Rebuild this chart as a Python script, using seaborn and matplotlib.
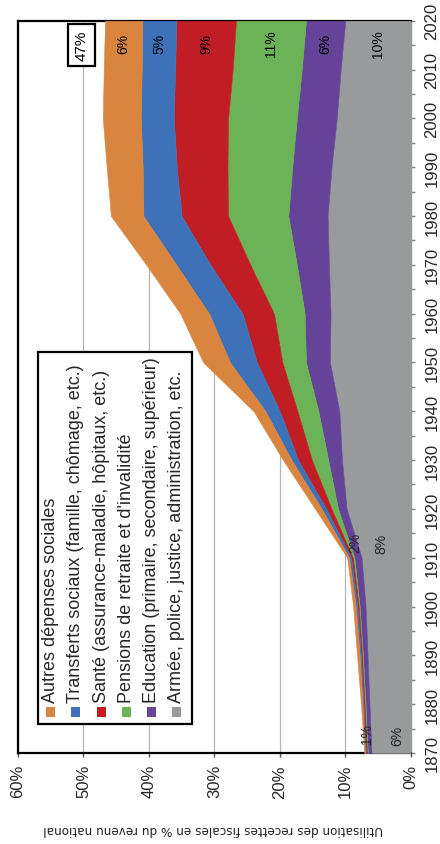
import matplotlib
matplotlib.use("Agg")
import matplotlib.pyplot as plt
from matplotlib.patches import Rectangle
from matplotlib.ticker import MultipleLocator, FuncFormatter
import seaborn as sns

# Share of national income spent through taxes, France, by use (% of national income)
years = [1870, 1880, 1890, 1900, 1910, 1920, 1930, 1940, 1950, 1960, 1970, 1980, 1990, 2000, 2010, 2020]
armee = [6.0, 6.3, 6.6, 6.9, 7.5, 9.8, 10.5, 10.9, 12.35, 12.25, 12.5, 12.7, 12.1, 11.3, 10.7, 10.0]
education = [0.55, 0.6, 0.7, 0.9, 1.1, 1.3, 2.1, 3.2, 3.65, 3.95, 4.9, 6.0, 6.0, 6.1, 5.95, 6.0]
pensions = [0.15, 0.15, 0.15, 0.15, 0.25, 1.0, 2.5, 3.2, 3.6, 4.7, 7.1, 9.2, 9.9, 10.5, 10.55, 10.7]
sante = [0.15, 0.15, 0.15, 0.2, 0.25, 0.8, 2.1, 2.7, 3.9, 4.8, 6.1, 7.1, 7.75, 8.3, 8.8, 9.1]
transferts = [0.15, 0.15, 0.2, 0.25, 0.3, 0.7, 1.0, 2.2, 4.1, 5.1, 5.2, 5.85, 5.2, 5.05, 5.1, 5.2]
autres = [0.1, 0.25, 0.4, 0.4, 0.3, 1.0, 1.3, 1.8, 4.1, 4.4, 4.6, 4.95, 5.5, 5.8, 5.8, 5.7]

series_names = [
    "Armée, police, justice, administration, etc.",
    "Education (primaire, secondaire, supérieur)",
    "Pensions de retraite et d'invalidité",
    "Santé (assurance-maladie, hôpitaux, etc.)",
    "Transferts sociaux (famille, chômage, etc.)",
    "Autres dépenses sociales",
]
series_values = [armee, education, pensions, sante, transferts, autres]
series_colors = ["#989a9b", "#644398", "#6cb256", "#c01e24", "#3d72b9", "#d9853f"]

pct_ticks = [0, 10, 20, 30, 40, 50, 60]
year_ticks = list(range(1870, 2021, 10))
y_label = "Utilisation des recettes fiscales en % du revenu national"

sns.set_theme(style="white")
plt.rcParams["font.family"] = ["Liberation Sans", "DejaVu Sans"]

fig = plt.figure(figsize=(4.4, 8.45), dpi=100)
ax = fig.add_axes([0.0409, 0.1077, 0.8925, 0.8666])

palette = sns.color_palette(series_colors)

# stacked areas, years running upward, percentages running right-to-left
base = [0.0] * len(years)
tops = []
for vals, col in zip(series_values, palette):
    top = [b + v for b, v in zip(base, vals)]
    ax.fill_betweenx(years, base, top, color=col, edgecolor=col, lw=0.4, zorder=3)
    tops.append(top)
    base = top

ax.set_xlim(60, 0)
ax.set_ylim(1870, 2020)

# frame
for side in ["left", "top", "bottom"]:
    ax.spines[side].set_color("black")
    ax.spines[side].set_linewidth(1.6)
    ax.spines[side].set_zorder(1)
ax.spines["right"].set_color("#9a9a9a")
ax.spines["right"].set_linewidth(1.0)
ax.spines["right"].set_zorder(1)

ax.set_axisbelow(True)
ax.grid(axis="x", color="#b4b4b4", lw=0.9)
ax.grid(axis="y", visible=False)

ax.set_xticks(pct_ticks)
ax.xaxis.set_major_formatter(FuncFormatter(lambda v, p: f"{int(v)}%"))
ax.tick_params(axis="x", direction="out", length=3, width=1, color="#555555",
               pad=5, labelsize=12, labelrotation=90, bottom=True)

ax.yaxis.tick_right()
ax.set_yticks(year_ticks)
ax.yaxis.set_minor_locator(MultipleLocator(5))
ax.tick_params(axis="y", which="both", direction="out", length=3, width=1,
               color="#888888", right=True, left=False)
ax.tick_params(axis="y", which="major", pad=7, labelsize=12, labelrotation=90)
for lab in ax.get_yticklabels():
    lab.set_va("center")

# value labels near 2020
label_year = 2015.5
lower = [0.0] + [t[-1] for t in tops[:-1]]
for vals, lo, top in zip(series_values, lower, tops):
    ax.text((lo + top[-1]) / 2, label_year, f"{round(vals[-1])}%", rotation=90,
            ha="center", va="center", fontsize=10, color="black", zorder=6)
ax.text(50.3, 2015.0, f"{round(tops[-1][-1])}%", rotation=90, ha="center", va="center",
        fontsize=11, color="black", zorder=6,
        bbox=dict(boxstyle="square,pad=0.4", fc="white", ec="black", lw=1.6))

# early-period labels: military/administration vs the rest
ax.text(2.0, 1873.8, f"{round(armee[0])}%", rotation=90, ha="center", va="center", fontsize=10, zorder=6)
ax.text(6.7, 1874.1, f"{round(tops[-1][0] - armee[0])}%", rotation=90, ha="center", va="center", fontsize=10, zorder=6)
ax.text(4.5, 1913.0, f"{round(armee[4])}%", rotation=90, ha="center", va="center", fontsize=10, zorder=6)
ax.text(8.5, 1913.2, f"{round(tops[-1][4] - armee[4])}%", rotation=90, ha="center", va="center", fontsize=10, zorder=6)

# legend box drawn sideways to follow the rotated layout
ax.add_patch(Rectangle((0.051, 0.0396), 0.392, 0.508, transform=ax.transAxes,
                       fc="white", ec="black", lw=1.6, zorder=7))
for i, (name, col) in enumerate(zip(series_names[::-1], palette[::-1])):
    xc = 0.0832 + i * 0.0642
    ax.add_patch(Rectangle((xc - 0.0115, 0.056 - 0.0062), 0.023, 0.0124,
                           transform=ax.transAxes, fc=col, ec="none", zorder=8))
    ax.text(xc, 0.0696, name, transform=ax.transAxes, rotation=90,
            rotation_mode="anchor", ha="left", va="center", fontsize=13, zorder=8)

fig.text(0.485, 0.018, y_label, rotation=180, ha="center", va="center",
         fontsize=9.6, family="DejaVu Sans", fontstretch="condensed", color="#222222")

fig.savefig("out.png", dpi=100)
